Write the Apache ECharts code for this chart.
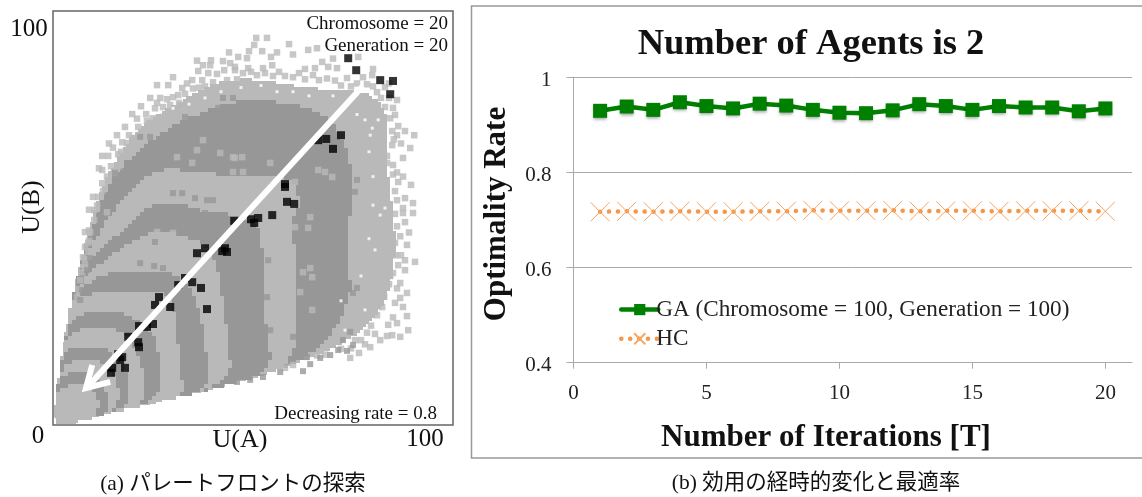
<!DOCTYPE html>
<html><head><meta charset="utf-8">
<style>html,body{margin:0;padding:0;background:#fff;overflow:hidden}#c{width:1142px;height:497px}</style>
<script src="https://cdn.jsdelivr.net/npm/echarts@6/dist/echarts.min.js"></script>
</head><body><div id="c"></div>
<script>
// ---- Right panel data ----
const iterations=[1,2,3,4,5,6,7,8,9,10,11,12,13,14,15,16,17,18,19,20];
const gaRate=[.929,.938,.931,.947,.939,.934,.944,.940,.931,.925,.924,.930,.943,.939,.931,.939,.936,.936,.928,.934];
const hcRate=[.717,.718,.717,.718,.717,.717,.718,.718,.72,.719,.719,.72,.718,.719,.719,.718,.719,.719,.719,.718];
// ---- Left panel data: estimated region outlines, outer to inner ----
const regionOuter=[[0.5,0.2],[0.5,4.8],[1.8,14.5],[3.8,25.4],[6.3,37.4],[9.3,48.3],[11.8,56.8],[15.5,64],[20.5,71.2],[26.8,75.6],[34.3,79.7],[40.5,82.8],[49.3,83.8],[59.3,82.1],[69.3,80.9],[78,80.4],[82.5,77.3],[83.8,72.5],[83,66.4],[84.3,56.8],[85.5,47.1],[85.5,38.6],[83,29],[78,23],[70.5,18.6],[61.8,15.2],[54.3,12.6],[44.3,9.7],[29.3,6.3],[11.8,2.4],[5.5,0.5]];
const fanLeftEdge=[[0.5,4.8],[1.8,14.5],[3.8,25.4],[6.3,37.4],[9.3,48.3]];
const fanLowerEdge=[[61.8,15.2],[54.3,12.6],[44.3,9.7],[29.3,6.3],[11.8,2.4],[5.5,0.5]];
const fanOrigin=[0.5,0.2];
const bandA=[[9.8,48.3],[14.3,59.2],[20,65.7],[26,69.6],[31.8,73.7],[36.8,75.3],[45,78.5],[61,77.8],[69.3,74.1],[73,67.6],[75,59.2],[74.3,50.7],[73,42.3],[74.8,33.3],[72.5,26.1],[69.3,21.3],[62.5,15.7]];
const bandB=[[9.3,43.5],[16,53.1],[21.8,59.2],[26.8,62.1],[36.8,61.1],[46.8,59.7],[54.3,60.4],[60.5,59.2],[61.8,53.1],[59.3,48.3],[61,39.8],[61.3,25.4],[60.8,19.3],[58,14.2]];
const bandC=[[8,39.4],[12.5,43],[18.5,48.3],[23.5,53.1],[30,53.9],[37.5,51.4],[46.8,50.7],[51.3,48.3],[52.5,42.3],[52.3,30.2],[53.8,20.5],[54.8,12.8]];
const bandD=[[6.8,34.3],[9.3,37.4],[18.5,44],[25,47.1],[35,45.4],[40.5,41.1],[42.3,30.2],[43.8,20.5],[44.8,10.1]];
const bandE=[[5.5,31.2],[9.3,35],[14.3,36.7],[20,37.4],[29.3,37.4],[34.3,32.6],[36,29.5],[38,21.3],[38.5,13.3],[38.8,8.5]];
const bandF=[[4.3,29.7],[8.8,31.9],[17.5,32.6],[21.8,32.1],[28,31.9],[30.5,27.8],[31.8,13.3],[32.8,6.8]];
const bandG=[[3.8,24.9],[9.3,27.5],[14.3,27.8],[18.5,26.6],[23.5,23.7],[26.3,18.8],[26.8,13.3],[27.3,6]];
const bandH=[[3.3,21.7],[9.3,23.7],[13.5,23.4],[17.5,22.2],[21,18.1],[22.5,13.3],[23.5,4.8]];
const bandI=[[2.8,18.8],[9.3,19.1],[12.5,18.6],[15.5,16.9],[18.5,13.3],[19.5,4.6]];
const bandJ=[[2.3,15.2],[8.5,16.4],[12.5,15],[16.3,10.9],[16.3,3.6]];
const bandK=[[1.5,11.6],[5.5,12.8],[9.3,12.6],[13.5,8.5],[13.5,2.9]];
const bandL=[[0.8,8],[5,10.1],[10,8.5],[11.8,4.8],[10.5,1.7]];
const lightPoints=[[39.5,88.1],[42.5,87.9],[44.3,87.4],[37.5,86.9],[39.3,86.9],[36.3,85.5],[38.8,85],[41,84.8],[42.8,85.7],[45.5,85.7],[34.8,83.3],[37.3,83.3],[40,82.8],[43.5,83.3],[32.3,81.4],[26,82.1],[28.8,82.1],[31.3,79.7],[24.3,79],[26.8,79],[28.5,78.7],[26,77.8],[29.3,77.3],[19.8,75.1],[23.3,75.1],[25,74.1],[27.5,74.4],[18,72],[21.3,72],[24,72.9],[26,71.7],[17.3,68.3],[20,69.3],[18.5,68.1],[12.3,65],[13.8,65],[16.3,65.4],[18.3,65.4],[12.3,61.6],[15.5,60.9],[12.3,58.4],[11.3,55.1],[10,55.1],[10.3,51.9],[13.5,51.4],[10.3,49.5],[9.3,46.6],[8,46.6],[8.8,44],[8.8,41.8],[8,39.1],[7.3,36.9],[6.8,35],[6.3,32.8],[6,30.9],[5.5,27.5],
[50.8,93.5],[53.5,93.5],[59,92],[50.3,91.8],[63.8,90.6],[66,91],[49,90.3],[52.3,90.3],[46.3,88.9],[48.5,88.6],[54.5,88.9],[67.3,87.7],[76.3,88.9],[45.5,86.5],[48.8,86.2],[52.5,86.2],[54.8,86.9],[63,86],[65.5,86.2],[68.8,86.5],[71,86.2],[73.5,83.8],[77.5,84],[79.8,84.5],[81,80.4],[83,81.6],[86,78.5],[83,76.8],[85,76.6],[85.5,74.9],[84.3,74.1],[86.3,72.2],[88,71],[90.3,70],[89.3,66.9],[84.8,67.6],[81.8,68.1],[83.5,63.3],[85,62.8],[86.3,58.7],[86,54.3],[88,54.8],[90,53.6],[87.5,52.4],[87.5,51.2],[90,51.2],[86.8,45.6],[90.5,39.4],[88,39.8],[86.3,38.6],[85,36.7],[88,37.4],[86.8,34.3],[88.5,31.9],[86.8,30.7],[85.5,29.5],[88.5,26.3],[86,24.6],[88.8,22.9],[86.8,21.3],[84.8,21.7],[83.8,24.2],[81.8,20.5],[79.3,18.8],[76.5,17.4],[74.3,16.2],
[41.8,65.7],[45,64.7],[34.8,63.3],[31,64.7],[36,66.4],[37.5,68.8],[66.3,61.6],[68,61.1],[69.8,59.9],[45.5,64.5],[47.3,64.7],[54.3,63.3],[45,61.1],[47.5,61.1],[60.5,58.7],[63.8,47.6],[60.5,47.8],[64.3,50.2],[56.3,45.9],[64.3,37.9],[62.5,36.9],[64.8,35.7],[61.8,32.1],[64.8,27.8],[30,46.4],[26,46.6],
[11,53],[12.5,56.5],[13.5,60],[14.5,62.5],[16.5,62.5],[15,67],[17,66],[19,70],[21,74],[22.5,70.5],[23.5,73.5],[25.5,76.5],[27.5,76.8],[30,79.2],[31.5,77.8],[33,80],[33.5,82.5],[35,81.3],[36.5,81.5],[38,81.8],[39,80.5],[41,81],[42.5,81.5],[44.5,81.7],[46,83.5],[47.5,85],[49.5,85.3],[51,84.5],[53,85],[55,84.3],[56.5,85.3],[58,84.3],[60,84],[61.5,85],[63,83.5],[65,84.5],[66.5,83.3],[68.5,83.7],[70.5,83.2],[72,82],[74.5,81.8],[76,82.5],[78.5,82.3],[80,81.8],[82,79],[84,79],[84.8,71],[85.2,69],[83.5,65],[85,60.5],[86,61],[85.5,56.5],[85.5,51],[86,48],[85.5,44],[85.7,41],[84,38.5],[84.3,36],[83.5,33.5],[82.8,31],[82.3,28.5],[81,26.5],[79.5,24],[78.5,22.3],[77,20.5],[74.5,18.5],[72,18.4],[68,17],[66,16.8],[60,14.5],[58,13.8],[8,38],[7.5,40.5],[9,44.5],[9,47],[8,43],
[84,34],[86,33],[87.5,28.5],[85,26],[83.5,21.5],[80.5,22],[78,19.5],[75.5,20.5],[87,41],[88.5,43.5],[89,46.5],[88,49],[89.5,58],[87.5,60],[87.5,64.5],[87,68],[86,70],[84,82.5],[80,86],[70,88.5],[60,89.5],[56,90],[44,90],[36,88],[30,84],[22,77],[16,70],[14,68],[11.5,62],[9,52]];
const darkPoints=[[75,19.3],[73.5,17.9],[71.3,18.1],[66.8,16.2],[64.3,14.7],[62.5,13],[69.3,16.9],[63.5,16.4],[56.8,12.8],[52.5,11.6],[49.3,10.9],[46,10.4],[74.3,22.5],[72.5,20.5],[76,33.1],[73,34.5],[75,31.9],[21.8,69.6],[24.3,69.6],[26,68.1],[33,74.4],[39.3,74.9],[41,74.9],[42.5,79],[45,79],[41.3,76.6],[43.8,76.6],[15.5,60.9],[16.8,57.5],[13.8,55.5],[15,54.3],[50,77.5],[54,76.6],[56,76.8],[56.5,73.9],[53,71.7],[49.3,73.2],[75.5,56.3],[76,59.2],[71.3,56.8],[69.3,57.2],[72.5,60.9],[9.3,40.3],[8.5,37.4],[7.3,32.6],[6.8,30.2],
[25.5,44.2],[30,56],[32.3,56],[35.5,54.8],[38.5,54.3],[40,54.3],[38,51.2],[21.8,39.1],[25.3,38.4],[27.5,37.9],[45.5,73.2],[53.8,39.8],[51.8,27],[54.3,22.9],[53.5,30.9],[60,21.3],[51,40.6]];
const gapPoints=[[80,53.1],[81.8,50.7],[83,52.4],[78,73.7],[79.8,71.7],[81.3,73.7],[79.3,70],[80.5,42.3],[78,27.8],[73,22.9],[30,76.5],[34,77.5],[38,79],[42,80.5],[47,81.5],[52,82],[56,80.5],[60,80.5],[64,79.5],[70,79.5],[74,78],[76,75],[79,66],[80,60],[79,45],[77,36],[72,30]];
const blackPoints=[[73.8,88.6],[75.8,85.7],[81.8,83.3],[85,83.1],[84.3,79.9],[72,70],[68.3,69.1],[66.3,68.8],[70,66.7],[58,58.2],[58,57.5],[58.5,53.9],[60.3,53.4],[54.8,50.7],[51.3,50],[49.5,49.7],[50.3,48.8],[45.3,49.3],[43,42.7],[36,41.5],[38,42.7],[42.3,42],[43.5,41.8],[33,35.5],[31.3,33.8],[34.8,34.5],[37,33.1],[38.5,28],[26.5,30.9],[25.5,29],[29.3,28.5],[25,24.4],[23.5,23.7],[21.5,23.9],[18.8,21.3],[21.3,20],[21.5,18.8],[16.3,17.1],[17.3,16.4],[16.8,15.7],[18,13.8],[14.8,13.8],[14.5,12.6]];
const arrowShaft=[[77.5,81.9],[8.6,9.2]];
const arrowHead=[[9.8,14.5],[8.25,8.9],[14.3,10.4]];

const LIGHT='#b9b9b9',DARK='#979797',SERIF='"Liberation Serif","Noto Sans CJK JP",serif';
const bands=[[regionOuter,LIGHT],[bandA,DARK],[bandB,LIGHT],[bandC,DARK],[bandD,LIGHT],[bandE,DARK],[bandF,LIGHT],[bandG,DARK],[bandH,LIGHT],[bandI,DARK],[bandJ,LIGHT],[bandK,DARK],[bandL,LIGHT]];
// closes an arc along the fan's own lower and left edges
function closedBand(pts){
  const last=pts[pts.length-1],first=pts[0];
  return pts.concat(fanLowerEdge.filter(q=>q[0]<last[0]-1),[fanOrigin],fanLeftEdge.filter(q=>q[1]<first[1]-1));
}
function chaikin(p){const o=[];p.forEach((a,i)=>{const b=p[(i+1)%p.length];o.push([a[0]*.75+b[0]*.25,a[1]*.75+b[1]*.25],[a[0]*.25+b[0]*.75,a[1]*.25+b[1]*.75]);});return o;}
// pixelated outline: the map's cells are about 5px square
function stair(p,cell){
  const out=[];let cx=null,cy=null;
  p.forEach((a,i)=>{const b=p[(i+1)%p.length],n=Math.max(1,Math.ceil(Math.hypot(b[0]-a[0],b[1]-a[1])/2));
    for(let k=0;k<n;k++){const x=Math.round((a[0]+(b[0]-a[0])*k/n)/cell)*cell,y=Math.round((a[1]+(b[1]-a[1])*k/n)/cell)*cell;
      if(x!==cx||y!==cy){if(cx!==null)out.push([x,cy]);out.push([x,y]);cx=x;cy=y;}}});
  return out;
}
const bandSeries=bands.map(([pts,fill],i)=>({
  type:'custom',coordinateSystem:'cartesian2d',xAxisIndex:0,yAxisIndex:0,silent:true,
  data:[fanOrigin],encode:{x:0,y:1},
  renderItem:(p,api)=>({type:'polygon',shape:{points:stair(chaikin(chaikin((i?closedBand(pts):pts).map(q=>api.coord(q)))),i===0?3:4)},style:{fill}})
}));
const dots=(data,color,size)=>({type:'scatter',xAxisIndex:0,yAxisIndex:0,symbol:'rect',symbolSize:size,data,itemStyle:{color},silent:true,clip:false});
const arrow=(data,width)=>({type:'line',xAxisIndex:0,yAxisIndex:0,data,symbol:'none',silent:true,z:5,lineStyle:{color:'#fff',width,join:'miter',cap:'butt'}});
const txt=(text,x,y,size,o={})=>({type:'text',x,y,rotation:o.rot||0,z:20,style:Object.assign({text,fill:'#111',font:(o.bold?'bold ':'')+size+'px '+SERIF,textAlign:o.align||'center',textVerticalAlign:'middle'},o.style||{})});
const xShape='path://M0,0L10,10M10,0L0,10';
const chart=echarts.init(document.getElementById('c'),null,{renderer:'canvas'});
chart.setOption({
  animation:false,backgroundColor:'#fff',
  grid:[
    {left:53,top:11,width:400,height:414,show:true,borderColor:'#666',borderWidth:1.5,backgroundColor:'#fff'},
    {left:573.5,top:77,width:558.5,height:285.7}
  ],
  xAxis:[
    {gridIndex:0,type:'value',min:0,max:100,show:false},
    {gridIndex:1,type:'value',min:0,max:21,interval:5,splitLine:{show:false},
     axisLine:{lineStyle:{color:'#aaa',width:1}},axisTick:{length:6,lineStyle:{color:'#aaa'}},
     axisLabel:{fontFamily:SERIF,fontSize:21,color:'#222',margin:20,showMaxLabel:false}}
  ],
  yAxis:[
    {gridIndex:0,type:'value',min:0,max:100,show:false},
    {gridIndex:1,type:'value',min:0.4,max:1,interval:0.2,
     axisLine:{show:true,lineStyle:{color:'#aaa',width:1}},axisTick:{show:true,length:7,lineStyle:{color:'#aaa'}},
     splitLine:{lineStyle:{color:'#aaa',width:1}},
     axisLabel:{fontFamily:SERIF,fontSize:21,color:'#222',margin:22,verticalAlign:'top',lineHeight:6,formatter:v=>String(+v.toFixed(1))}}
  ],
  legend:{data:['GA (Chromosome = 100, Generation = 100)','HC'],orient:'vertical',left:614,top:293,itemWidth:37,itemHeight:14,itemGap:6,
    lineStyle:{width:4.5},
    textStyle:{fontFamily:SERIF,fontSize:23.2,color:'#222',padding:[0,0,0,-7]}},
  graphic:[
    {type:'rect',shape:{x:471.5,y:6,width:700,height:452},style:{fill:'none',stroke:'#999',lineWidth:1.5},z:-1},
    txt('100',29,29,25),txt('0',38,436,25),txt('100',425,439,25),txt('U(A)',240,440,26),
    txt('U(B)',32,207,26,{rot:Math.PI/2}),
    txt('Chromosome = 20',448,24,19,{align:'right'}),txt('Generation = 20',448,46,19,{align:'right'}),
    txt('Decreasing rate = 0.8',437,414,19,{align:'right'}),
    txt('(a) パレートフロントの探索',233,484,21.5),
    txt('(b) 効用の経時的変化と最適率',816,483,21.5),
    txt('Number of Agents is 2',811,45,36.5,{bold:true}),
    txt('Number of Iterations [T]',826,438,31,{bold:true}),
    txt('Optimality Rate',497,214,31,{bold:true,rot:Math.PI/2})
  ],
  series:[
    ...bandSeries,
    dots(lightPoints,LIGHT,6.5),dots(darkPoints,DARK,6),dots(gapPoints,'#fff',3),
    arrow(arrowShaft,6),arrow(arrowHead,6),
    dots(blackPoints,'#000',8),
    {name:'GA (Chromosome = 100, Generation = 100)',type:'line',xAxisIndex:1,yAxisIndex:1,data:iterations.map((x,i)=>[x,gaRate[i]]),
     symbol:'rect',symbolSize:14,itemStyle:{color:'#008000',shadowBlur:3,shadowColor:'rgba(0,0,0,.35)',shadowOffsetY:2},lineStyle:{color:'#008000',width:4.5,cap:'round'}},
    {name:'HC',type:'line',xAxisIndex:1,yAxisIndex:1,data:iterations.map((x,i)=>[x,hcRate[i]]),
     symbol:xShape,symbolSize:19,symbolKeepAspect:true,
     itemStyle:{color:'rgba(0,0,0,0)',borderColor:'#f9a45f',borderWidth:1},
     lineStyle:{color:'#f79646',width:4.5,type:[0.1,8.8],cap:'round'}}
  ]
});
</script></body></html>
